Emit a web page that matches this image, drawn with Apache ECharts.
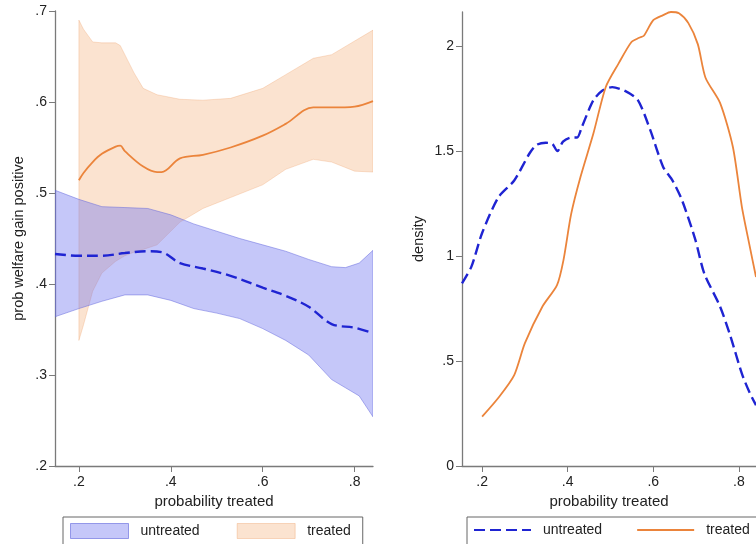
<!DOCTYPE html>
<html>
<head>
<meta charset="utf-8">
<script src="https://cdn.jsdelivr.net/npm/echarts@6/dist/echarts.min.js"></script>
<style>
  html, body { margin: 0; padding: 0; background: #fff; }
  #chart { width: 756px; height: 544px; }
</style>
</head>
<body>
<div id="chart"></div>
<script>
// left panel: prob welfare gain positive vs probability treated
var treatedBandX = [0.2, 0.21, 0.23, 0.25, 0.28, 0.29, 0.3, 0.32, 0.34, 0.37, 0.42, 0.47, 0.53, 0.6, 0.65, 0.71, 0.75, 0.8, 0.84];
var treatedUpper = [0.690, 0.680, 0.666, 0.665, 0.665, 0.662, 0.652, 0.632, 0.615, 0.608, 0.603, 0.602, 0.604, 0.615, 0.630, 0.648, 0.652, 0.667, 0.679];
var treatedLower = [0.338, 0.355, 0.392, 0.412, 0.425, 0.428, 0.431, 0.435, 0.438, 0.443, 0.468, 0.483, 0.495, 0.509, 0.526, 0.537, 0.534, 0.524, 0.523];

var untreatedBandX = [0.148, 0.2, 0.25, 0.3, 0.35, 0.4, 0.45, 0.5, 0.55, 0.6, 0.65, 0.7, 0.75, 0.78, 0.81, 0.84];
var untreatedUpper = [0.503, 0.493, 0.485, 0.484, 0.483, 0.476, 0.466, 0.458, 0.450, 0.443, 0.436, 0.427, 0.419, 0.418, 0.423, 0.437];
var untreatedLower = [0.364, 0.373, 0.381, 0.388, 0.388, 0.382, 0.373, 0.368, 0.362, 0.351, 0.338, 0.322, 0.295, 0.286, 0.277, 0.254];

var treatedMeanX = [0.2, 0.21, 0.23, 0.25, 0.28, 0.29, 0.3, 0.34, 0.37, 0.38, 0.42, 0.47, 0.53, 0.6, 0.65, 0.71, 0.75, 0.8, 0.84];
var treatedMean = [0.514, 0.522, 0.534, 0.543, 0.551, 0.552, 0.546, 0.529, 0.523, 0.523, 0.538, 0.542, 0.550, 0.563, 0.576, 0.594, 0.594, 0.595, 0.601];
var untreatedMeanX = [0.148, 0.2, 0.25, 0.3, 0.35, 0.38, 0.42, 0.47, 0.53, 0.6, 0.65, 0.7, 0.75, 0.8, 0.84];
var untreatedMean = [0.433, 0.431, 0.431, 0.434, 0.436, 0.435, 0.423, 0.417, 0.409, 0.396, 0.387, 0.375, 0.356, 0.352, 0.346];

// right panel: densities
var densUntreatedX = [0.153, 0.175, 0.2, 0.238, 0.275, 0.311, 0.327, 0.349, 0.364, 0.376, 0.389, 0.408, 0.422, 0.433, 0.46, 0.482, 0.504, 0.534, 0.564, 0.593, 0.623, 0.645, 0.667, 0.698, 0.719, 0.756, 0.78, 0.807, 0.825, 0.84];
var densUntreated = [0.87, 0.95, 1.11, 1.28, 1.36, 1.49, 1.53, 1.54, 1.535, 1.50, 1.545, 1.565, 1.565, 1.615, 1.743, 1.79, 1.805, 1.787, 1.743, 1.60, 1.425, 1.36, 1.267, 1.08, 0.918, 0.76, 0.62, 0.44, 0.35, 0.29];
var densTreatedX = [0.2, 0.24, 0.275, 0.3, 0.341, 0.375, 0.39, 0.408, 0.43, 0.46, 0.489, 0.519, 0.549, 0.567, 0.578, 0.6, 0.623, 0.641, 0.66, 0.682, 0.704, 0.722, 0.756, 0.786, 0.807, 0.825, 0.84];
var densTreated = [0.235, 0.33, 0.433, 0.585, 0.76, 0.862, 0.98, 1.2, 1.378, 1.584, 1.806, 1.918, 2.02, 2.04, 2.05, 2.124, 2.148, 2.163, 2.157, 2.11, 2.01, 1.85, 1.73, 1.52, 1.235, 1.05, 0.9];

var xTicks = [0.2, 0.4, 0.6, 0.8];
var leftYTicks = [0.2, 0.3, 0.4, 0.5, 0.6, 0.7];
var rightYTicks = [0, 0.5, 1, 1.5, 2];

var BLUE = '#1f24d2';
var ORANGE = '#eb843b';
var BLUE_FILL = 'rgba(110,115,240,0.4)';
var BLUE_EDGE = 'rgba(95,100,220,0.6)';
var ORANGE_FILL = 'rgba(242,155,85,0.28)';
var ORANGE_EDGE = 'rgba(235,140,70,0.3)';
var FONT = 'Liberation Sans, Arial, sans-serif';

function pairs(xs, ys) {
  return xs.map(function (x, i) { return [x, ys[i]]; });
}
function rows(xs, lo, hi) {
  return xs.map(function (x, i) { return [x, lo[i], hi[i]]; });
}
function stataLabel(v) {
  if (v === 0) return '0';
  var s = String(+v.toFixed(2));
  return s.replace(/^0\./, '.');
}

// confidence band as one polygon: upper edge left->right, lower edge back
function bandSeries(name, xs, lo, hi, fill, edge) {
  return {
    name: name, type: 'custom', xAxisIndex: 0, yAxisIndex: 0,
    data: rows(xs, lo, hi), encode: { x: 0, y: [1, 2] }, silent: true, clip: true,
    itemStyle: { color: fill },
    renderItem: function (params, api) {
      if (params.dataIndex !== 0) return null;
      var pts = [];
      for (var i = 0; i < xs.length; i++) pts.push(api.coord([xs[i], hi[i]]));
      for (var j = xs.length - 1; j >= 0; j--) pts.push(api.coord([xs[j], lo[j]]));
      return {
        type: 'polygon',
        shape: { points: pts },
        style: { fill: fill, stroke: edge, lineWidth: 0.8 }
      };
    }
  };
}

function xAxisFor(gridIndex, min, max) {
  return {
    type: 'value', gridIndex: gridIndex, min: min, max: max,
    name: 'probability treated', nameLocation: 'middle', nameGap: 27,
    nameTextStyle: { fontSize: 15, color: '#222', fontFamily: FONT },
    axisLine: { show: true, onZero: false, lineStyle: { color: '#7a7a7a', width: 1.3 } },
    axisTick: { show: true, length: 6, customValues: xTicks, lineStyle: { color: '#7a7a7a' } },
    axisLabel: { customValues: xTicks, formatter: stataLabel, fontSize: 14, color: '#222', fontFamily: FONT, margin: 9 },
    splitLine: { show: false }
  };
}
function yAxisFor(gridIndex, min, max, ticks, name, gap) {
  return {
    type: 'value', gridIndex: gridIndex, min: min, max: max,
    name: name, nameLocation: 'middle', nameGap: gap,
    nameTextStyle: { fontSize: 14.5, color: '#222', fontFamily: FONT },
    axisLine: { show: true, onZero: false, lineStyle: { color: '#7a7a7a', width: 1.3 } },
    axisTick: { show: true, length: 6, customValues: ticks, lineStyle: { color: '#7a7a7a' } },
    axisLabel: { customValues: ticks, formatter: stataLabel, fontSize: 14, color: '#222', fontFamily: FONT, margin: 8 },
    splitLine: { show: false }
  };
}

var legendNames = {
  uBand: 'untreated', tBand: 'treated',
  uDens: 'untreated', tDens: 'treated'
};

var chart = echarts.init(document.getElementById('chart'), null, { renderer: 'canvas' });
chart.setOption({
  animation: false,
  backgroundColor: '#fff',
  grid: [
    { left: 55, top: 11, width: 318, height: 455 },
    { left: 462, top: 12, width: 309, height: 454 }
  ],
  xAxis: [xAxisFor(0, 0.148, 0.84), xAxisFor(1, 0.153, 0.84)],
  yAxis: [
    yAxisFor(0, 0.2, 0.7, leftYTicks, 'prob welfare gain positive', 29),
    yAxisFor(1, 0, 2.163, rightYTicks, 'density', 36)
  ],
  legend: [
    {
      left: 63, top: 517, width: 300, orient: 'horizontal',
      padding: [6, 12, 14, 7], itemGap: 37, itemWidth: 58, itemHeight: 15,
      borderColor: '#666', borderWidth: 1,
      textStyle: { fontSize: 14, color: '#222', fontFamily: FONT, padding: [0, 0, 0, 7] },
      formatter: function (n) { return legendNames[n]; },
      data: [
        { name: 'uBand', icon: 'rect', itemStyle: { color: BLUE_FILL, borderColor: BLUE_EDGE, borderWidth: 1 } },
        { name: 'tBand', icon: 'rect', itemStyle: { color: ORANGE_FILL, borderColor: ORANGE_EDGE, borderWidth: 1 } }
      ],
      selectedMode: false
    },
    {
      left: 467, top: 517, width: 320, orient: 'horizontal',
      padding: [6, 12, 14, 6], itemGap: 34, itemWidth: 57, itemHeight: 15,
      borderColor: '#666', borderWidth: 1,
      textStyle: { fontSize: 14, color: '#222', fontFamily: FONT, padding: [0, 0, 0, 7] },
      formatter: function (n) { return legendNames[n]; },
      data: [
        { name: 'uDens', itemStyle: { opacity: 0 } },
        { name: 'tDens', itemStyle: { opacity: 0 } }
      ],
      selectedMode: false
    }
  ],
  series: [
    bandSeries('tBand', treatedBandX, treatedLower, treatedUpper, ORANGE_FILL, ORANGE_EDGE),
    bandSeries('uBand', untreatedBandX, untreatedLower, untreatedUpper, BLUE_FILL, BLUE_EDGE),
    {
      name: 'tMean', type: 'line', xAxisIndex: 0, yAxisIndex: 0,
      data: pairs(treatedMeanX, treatedMean), symbol: 'none', smooth: 0.35, silent: true,
      lineStyle: { color: ORANGE, width: 1.8 }
    },
    {
      name: 'uMean', type: 'line', xAxisIndex: 0, yAxisIndex: 0,
      data: pairs(untreatedMeanX, untreatedMean), symbol: 'none', smooth: 0.35, silent: true,
      lineStyle: { color: BLUE, width: 2.4, type: [11, 5] }
    },
    {
      name: 'uDens', type: 'line', xAxisIndex: 1, yAxisIndex: 1,
      data: pairs(densUntreatedX, densUntreated), symbol: 'none', smooth: 0.25, silent: true,
      itemStyle: { color: BLUE },
      lineStyle: { color: BLUE, width: 2.4, type: [11, 5] }
    },
    {
      name: 'tDens', type: 'line', xAxisIndex: 1, yAxisIndex: 1,
      data: pairs(densTreatedX, densTreated), symbol: 'none', smooth: 0.25, silent: true,
      itemStyle: { color: ORANGE },
      lineStyle: { color: ORANGE, width: 1.8 }
    }
  ]
});
</script>
</body>
</html>
